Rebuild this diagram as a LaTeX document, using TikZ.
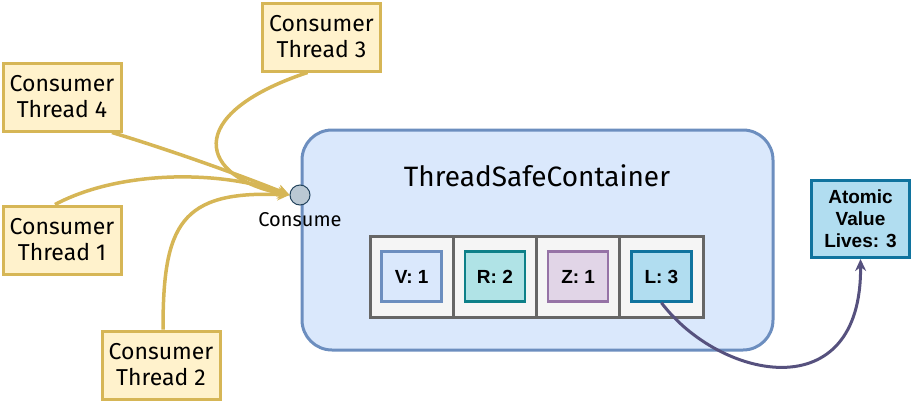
\documentclass[tikz,border=0pt]{standalone}
\usepackage{fontspec}
\setmainfont{Fira Sans}
\newfontfamily\arialfont{Liberation Sans}
\usetikzlibrary{arrows.meta}

\definecolor{thrfill}{HTML}{FFF2CC}
\definecolor{thrdraw}{HTML}{D6B656}
\definecolor{boxfill}{HTML}{DAE8FC}
\definecolor{boxdraw}{HTML}{6C8EBF}
\definecolor{arrfill}{HTML}{F5F5F5}
\definecolor{arrdraw}{HTML}{666666}
\definecolor{rfill}{HTML}{B0E3E6}
\definecolor{rdraw}{HTML}{0E8088}
\definecolor{zfill}{HTML}{E1D5E7}
\definecolor{zdraw}{HTML}{9673A6}
\definecolor{lfill}{HTML}{B1DDF0}
\definecolor{ldraw}{HTML}{10739E}
\definecolor{portfill}{HTML}{BAC8D3}
\definecolor{portdraw}{HTML}{23445D}
\definecolor{linkdraw}{HTML}{56517E}

\tikzset{
	consumer/.style={draw=thrdraw, fill=thrfill, line width=3pt, minimum width=118pt,
		minimum height=68pt, inner sep=0pt, align=center, font=\fontsize{23}{26}\selectfont},
	feed/.style={draw=thrdraw, line width=3.5pt, -{Stealth[length=12pt,width=12pt]}},
	cellbox/.style={draw=arrdraw, fill=arrfill, line width=3pt, minimum width=83.25pt,
		minimum height=81pt, inner sep=0pt},
	itembox/.style={line width=2.5pt, minimum width=60pt, minimum height=50pt, inner sep=0pt,
		font=\arialfont\bfseries\fontsize{19}{22}\selectfont}
}

\begin{document}
\begin{tikzpicture}[x=1pt,y=-1pt]
	\useasboundingbox (0,0) rectangle (913,418);

	% container
	\node[draw=boxdraw, fill=boxfill, line width=3pt, rounded corners=30pt,
		minimum width=471pt, minimum height=220pt] (box) at (537.5,240) {};
	\node[font=\fontsize{28}{32}\selectfont] (title) at (537,176) {ThreadSafeContainer};

	% array cells
	\foreach \lbl/\fc/\dc [count=\i] in {V: 1/boxfill/boxdraw, R: 2/rfill/rdraw, Z: 1/zfill/zdraw, L: 3/lfill/ldraw}{
		\node[cellbox] (cell\i) at (370+83.25*\i-41.6,276.5) {};
		\node[itembox, fill=\fc, draw=\dc] (item\i) at (cell\i) {\lbl};
	}

	% port
	\node[circle, draw=portdraw, fill=portfill, line width=1pt, minimum size=20pt, inner sep=0pt]
		(port) at (300,195) {};
	\node[font=\fontsize{20}{22}\selectfont] (portlbl) at (300,220) {Consume};

	% consumers
	\node[consumer] (ct3) at (321.5,37) {Consumer\\Thread 3};
	\node[consumer] (ct4) at (62,97) {Consumer\\Thread 4};
	\node[consumer] (ct1) at (62,240) {Consumer\\Thread 1};
	\node[consumer] (ct2) at (161,365) {Consumer\\Thread 2};

	\draw[feed] ([xshift=-14pt]ct3.south) .. controls (180,115) and (200,178) .. (port.west);
	\draw[feed] ([xshift=50pt]ct4.south) .. controls (170,150) and (240,175) .. (port.west);
	\draw[feed] ([xshift=-7pt]ct1.north) .. controls (120,170) and (220,170) .. (port.west);
	\draw[feed] ([xshift=2pt]ct2.north) .. controls (163,225) and (180,190) .. (port.west);

	% atomic value
	\node[draw=ldraw, fill=lfill, line width=3pt, minimum width=98pt, minimum height=77pt,
		inner sep=0pt, align=center, font=\arialfont\bfseries\fontsize{19}{22}\selectfont]
		(atomic) at (860.5,219) {Atomic\\Value\\Lives: 3};

	\draw[draw=linkdraw, line width=3pt, -{Stealth[length=12pt,width=11pt]}]
		(item4.south) .. controls (720,380) and (862,410) .. (atomic.south);
\end{tikzpicture}
\end{document}
